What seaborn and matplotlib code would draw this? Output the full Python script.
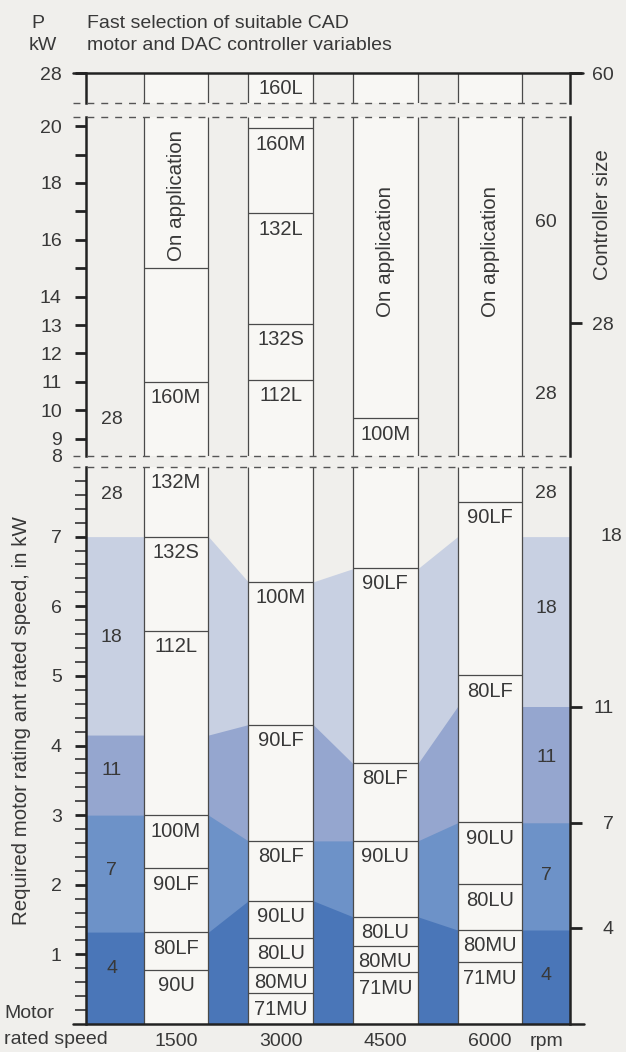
import numpy as np
import matplotlib.pyplot as plt
import seaborn as sns

# column speeds (rpm)
speeds = [1500, 3000, 4500, 6000]

# motor boxes, lower part 0-8 kW (kW of the line above each label)
lines_1500 = [0.78, 1.32, 2.24, 3.0, 5.65, 7.0, 8.0]
motors_1500 = ["90U", "80LF", "90LF", "100M", "112L", "132S", "132M"]
lines_3000 = [0.44, 0.82, 1.24, 1.77, 2.63, 4.30, 6.35]
motors_3000 = ["71MU", "80MU", "80LU", "90LU", "80LF", "90LF", "100M"]
lines_4500 = [0.74, 1.12, 1.54, 2.63, 3.75, 6.55]
motors_4500 = ["71MU", "80MU", "80LU", "90LU", "80LF", "90LF"]
lines_6000 = [0.89, 1.35, 2.01, 2.90, 5.01, 7.50]
motors_6000 = ["71MU", "80MU", "80LU", "90LU", "80LF", "90LF"]

# middle part 8-20 kW
mid_lines_1500 = [11.0, 15.0]
mid_motors_1500 = ["160M", ""]
mid_lines_3000 = [11.07, 13.04, 16.93, 19.93]
mid_motors_3000 = ["112L", "132S", "132L", "160M"]
mid_lines_4500 = [9.72]
mid_motors_4500 = ["100M"]
top_motor_3000 = "160L"

# "On application" notes (centre of the text, kW)
on_app_speeds = [1500, 4500, 6000]
on_app_kw = [17.54, 15.57, 15.57]

# controller size bands: upper edge of each band at each column
band_4 = [1.32, 1.77, 1.54, 1.35]
band_7 = [3.0, 2.63, 2.63, 2.89]
band_11 = [4.15, 4.30, 3.74, 4.56]
band_18 = [7.0, 6.35, 6.54, 7.0]
band_colors = ["#4a76b8", "#6d92c8", "#95a6cf", "#c8d0e2"]

# controller sizes written in the side strips
left_sizes = ["4", "7", "11", "18", "28"]
left_size_kw = [0.80, 2.2, 3.64, 5.55, 7.6]
right_sizes = ["4", "7", "11", "18", "28"]
right_size_kw = [0.70, 2.14, 3.83, 5.97, 7.62]
mid_left_sizes = ["28"]
mid_left_kw = [9.66]
mid_right_sizes = ["28", "60"]
mid_right_kw = [10.54, 16.62]

# controller scale on the right edge
ctrl_low_kw = [1.38, 2.89, 4.56]
ctrl_low = ["4", "7", "11"]
ctrl_mid_kw = [13.07]
ctrl_mid = ["28"]

# left kW scale
low_ticks = [1, 2, 3, 4, 5, 6, 7]
mid_ticks = [9, 10, 11, 12, 13, 14, 15, 16, 17, 18, 19, 20]
mid_tick_labels = ["9", "10", "11", "12", "13", "14", "", "16", "", "18", "", "20"]

sns.set_theme(style="ticks")
plt.rcParams["font.family"] = ["Liberation Sans", "DejaVu Sans"]

bg = "#f0efec"
box_c = "#f8f7f4"
line_c = "#4a4a4a"
axis_c = "#222222"
text_c = "#383838"
hw = 465
x_lo, x_hi = 210, 7146
fs = 14

fig = plt.figure(figsize=(6.26, 10.52), dpi=100)
fig.patch.set_facecolor(bg)
H = 1052.0
L, W = 86 / 626, 484 / 626
ax_top = fig.add_axes([L, 1 - 103 / H, W, 30 / H])
ax_mid = fig.add_axes([L, 1 - 456 / H, W, 339 / H])
ax_low = fig.add_axes([L, 1 - 1024 / H, W, 557 / H])
ax_top.set_ylim(27, 28)
ax_mid.set_ylim(8.39, 20.32)
ax_low.set_ylim(0, 8)

for ax in (ax_top, ax_mid, ax_low):
    ax.set_facecolor(bg)
    ax.set_xlim(x_lo, x_hi)
    for s in ("top", "bottom"):
        ax.spines[s].set_visible(False)
    for s in ("left", "right"):
        ax.spines[s].set_linewidth(1.8)
        ax.spines[s].set_color(axis_c)
    ax.tick_params(axis="x", bottom=False, labelbottom=False)
    ax.tick_params(axis="y", which="major", left=True, length=8, width=2,
                   pad=9.4, color=axis_c, labelsize=fs, labelcolor=text_c)
    ax.tick_params(axis="y", which="minor", left=True, length=8, width=1.1,
                   color=axis_c)
    y0, y1 = ax.get_ylim()
    ax.bar(speeds, y1 - y0, bottom=y0, width=2 * hw, color=box_c,
           linewidth=0, zorder=2)
    for s in speeds:
        ax.vlines([s - hw, s + hw], y0, y1, color=line_c, lw=0.9, zorder=3)

# dashed break lines
for ax, y in ((ax_top, 27), (ax_mid, 20.32), (ax_mid, 8.39), (ax_low, 8)):
    ax.axhline(y, xmin=-0.027, xmax=1.005, color="#555555", lw=1.0,
               ls=(0, (5, 5)), clip_on=False, zorder=5)

# top and bottom lines
ax_top.axhline(28, xmin=-0.027, xmax=1.027, color=axis_c, lw=1.8,
               clip_on=False, zorder=5)
ax_low.axhline(0, xmin=-0.027, xmax=1.029, color=axis_c, lw=1.8,
               clip_on=False, zorder=5)

# controller size bands
xs = [x_lo] + [v for s in speeds for v in (s - hw, s + hw)] + [x_hi]
for b, c in zip([band_18, band_11, band_7, band_4], band_colors[::-1]):
    edge = [b[0]] + [v for v in b for _ in (0, 1)] + [b[-1]]
    ax_low.fill_between(xs, 0, edge, color=c, lw=0, zorder=1)


def draw_motors(ax, speed, lines, motors, top):
    for y, m in zip(lines, motors):
        if y < top:
            ax.hlines(y, speed - hw, speed + hw, color=line_c, lw=0.9, zorder=3)
        ax.annotate(m, (speed, y), xytext=(0, -11.5), textcoords="offset points",
                    ha="center", va="center", fontsize=14.5, color=text_c, zorder=4)


draw_motors(ax_low, 1500, lines_1500, motors_1500, 8)
draw_motors(ax_low, 3000, lines_3000, motors_3000, 8)
draw_motors(ax_low, 4500, lines_4500, motors_4500, 8)
draw_motors(ax_low, 6000, lines_6000, motors_6000, 8)
draw_motors(ax_mid, 1500, mid_lines_1500, mid_motors_1500, 20.32)
draw_motors(ax_mid, 3000, mid_lines_3000, mid_motors_3000, 20.32)
draw_motors(ax_mid, 4500, mid_lines_4500, mid_motors_4500, 20.32)
draw_motors(ax_top, 3000, [28], [top_motor_3000], 28)

for s, y in zip(on_app_speeds, on_app_kw):
    ax_mid.text(s, y, "On application", rotation=90, ha="center", va="center",
                fontsize=14.8, color=text_c, zorder=4)

# sizes in the side strips
xl = (x_lo + speeds[0] - hw) / 2 - 45
xr = (speeds[-1] + hw + x_hi) / 2
for t, y in zip(left_sizes, left_size_kw):
    ax_low.text(xl, y, t, ha="center", va="center", fontsize=fs, color=text_c, zorder=4)
for t, y in zip(right_sizes, right_size_kw):
    ax_low.text(xr, y, t, ha="center", va="center", fontsize=fs, color=text_c, zorder=4)
for t, y in zip(mid_left_sizes, mid_left_kw):
    ax_mid.text(xl, y, t, ha="center", va="center", fontsize=fs, color=text_c, zorder=4)
for t, y in zip(mid_right_sizes, mid_right_kw):
    ax_mid.text(xr, y, t, ha="center", va="center", fontsize=fs, color=text_c, zorder=4)

# left kW scale
ax_low.set_yticks(low_ticks, [str(t) for t in low_ticks])
ax_low.set_yticks([round(0.2 * i, 1) for i in range(1, 40) if i % 5], minor=True)
ax_mid.set_yticks(mid_ticks, mid_tick_labels)
ax_top.set_yticks([28], ["28"])
ax_low.annotate("8", xy=(0, 8), xycoords=("axes fraction", "data"),
                xytext=(-17.3, 6.5), textcoords="offset points", ha="right",
                va="center", fontsize=fs, color=text_c)

# right controller scale
for ax, ticks, labels in ((ax_low, ctrl_low_kw, ctrl_low),
                          (ax_mid, ctrl_mid_kw, ctrl_mid),
                          (ax_top, [28], ["60"])):
    tw = ax.twinx()
    tw.set_ylim(ax.get_ylim())
    for s in tw.spines.values():
        s.set_visible(False)
    tw.set_yticks(ticks, labels)
    tw.tick_params(axis="y", right=True, length=8.6, width=2, pad=23,
                   color=axis_c, labelsize=fs, labelcolor=text_c)
    for lab in tw.get_yticklabels():
        lab.set_horizontalalignment("right")
ax_low.annotate("18", xy=(1, 7.0), xycoords=("axes fraction", "data"),
                xytext=(29.5, 0), textcoords="offset points", ha="center",
                va="center", fontsize=fs, color=text_c)

# speeds along the bottom
ax_low.tick_params(axis="x", bottom=True, length=0, labelbottom=True, pad=6.5,
                   labelsize=fs, labelcolor=text_c)
ax_low.set_xticks(speeds, [str(s) for s in speeds])
ax_low.annotate("rpm", xy=(0.952, 0), xycoords="axes fraction", xytext=(0, -6.5),
                textcoords="offset points", ha="center", va="top", fontsize=fs,
                color=text_c)

# titles and labels
fig.text(87 / 626, 1 - 24 / H, "Fast selection of suitable CAD", fontsize=fs,
         color=text_c, va="center")
fig.text(87 / 626, 1 - 45 / H, "motor and DAC controller variables", fontsize=fs,
         color=text_c, va="center")
fig.text(31 / 626, 1 - 24 / H, "P", fontsize=fs, color=text_c, va="center")
fig.text(29 / 626, 1 - 45 / H, "kW", fontsize=fs, color=text_c, va="center")
fig.text(22 / 626, 1 - 721 / H, "Required motor rating ant rated speed, in kW",
         rotation=90, fontsize=14.8, color=text_c, ha="center", va="center")
fig.text(603 / 626, 1 - 215 / H, "Controller size", rotation=90, fontsize=14.8,
         color=text_c, ha="center", va="center")
fig.text(4 / 626, 1 - 1013 / H, "Motor", fontsize=fs, color=text_c, va="center")
fig.text(4 / 626, 1 - 1040 / H, "rated speed", fontsize=fs, color=text_c, va="center")

fig.savefig("out.png", dpi=100, facecolor=bg)
